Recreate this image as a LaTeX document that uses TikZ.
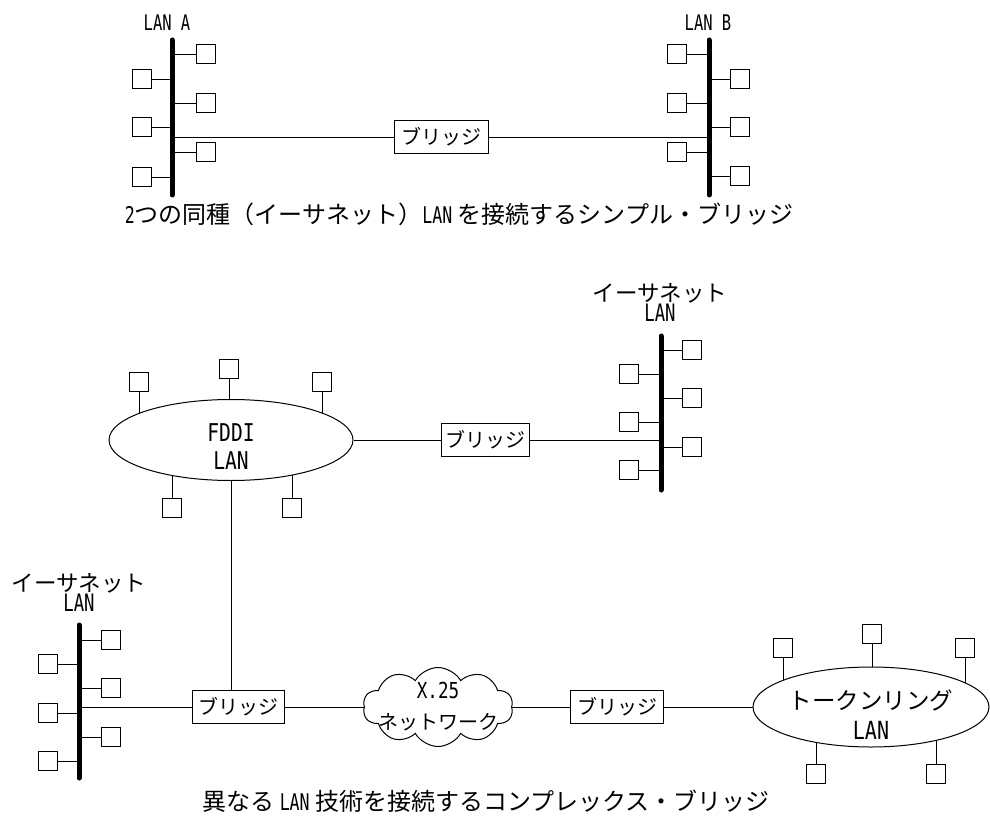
\documentclass[tikz,border=0pt]{standalone}
\usepackage{fontspec}
\setmainfont{Noto Sans CJK JP}
\newfontfamily\lt[FakeStretch=0.8]{DejaVu Sans Mono}
\newfontfamily\ltn[FakeStretch=0.72]{DejaVu Sans Mono}
\usetikzlibrary{shapes.geometric,shapes.symbols}
\pgfdeclarelayer{bg}\pgfsetlayers{bg,main}
\begin{document}
\begin{tikzpicture}[x=1pt,y=-1pt,
 dev/.style={draw,line width=1pt,minimum width=19pt,minimum height=19pt,inner sep=0pt},
 bus/.style={line width=5pt,line cap=round},
 wire/.style={line width=0.9pt},
 bridge/.style={draw,line width=1pt,minimum height=33pt,inner sep=0pt,fill=white,font=\fontsize{20}{24}\selectfont},
 lbl/.style={font=\fontsize{22.5}{20}\selectfont,align=center,inner sep=0pt},
 captxt/.style={font=\fontsize{24}{26}\selectfont,inner sep=0pt},
 lan/.style={draw,ellipse,fill=white,line width=1pt,inner sep=0pt,align=center},
 inlbl/.style={align=center,inner sep=0pt},
 lat/.style={font=\ltn\fontsize{21.5}{24}\selectfont,inner sep=0pt}
]
\useasboundingbox (0,0) rectangle (990,818);

% ---------- top: simple bridge ----------
\node[lat] (lanA) at (167,23) {LAN A};
\node[lat] (lanB) at (708,23) {LAN B};
\coordinate (aT) at (172,40); \coordinate (aB) at (172,195);
\coordinate (bT) at (709,40); \coordinate (bB) at (709,195);
\draw[bus] (aT) -- (aB);
\draw[bus] (bT) -- (bB);
\foreach \n/\y in {1/79,2/127,3/177}{
  \node[dev] (al\n) at (142,\y) {};
  \draw[wire] (al\n.east) -- (al\n.east -| aT);
}
\foreach \n/\y in {1/54,2/103,3/152}{
  \node[dev] (ar\n) at (206,\y) {};
  \draw[wire] (ar\n.west) -- (ar\n.west -| aT);
}
\foreach \n/\y in {1/54,2/103,3/152}{
  \node[dev] (bl\n) at (677,\y) {};
  \draw[wire] (bl\n.east) -- (bl\n.east -| bT);
}
\foreach \n/\y in {1/79,2/127,3/176}{
  \node[dev] (br\n) at (740,\y) {};
  \draw[wire] (br\n.west) -- (br\n.west -| bT);
}
\node[bridge,minimum width=94pt] (brT) at (441,137) {ブリッジ};
\draw[wire] (brT.west) -- (brT.west -| aT);
\draw[wire] (brT.east) -- (brT.east -| bT);
\node[captxt] (cap1) at (459,214) {{\ltn\fontsize{23}{26}\selectfont 2}つの同種（イーサネット）{\ltn\fontsize{23}{26}\selectfont LAN} を接続するシンプル・ブリッジ};

% ---------- bottom: complex bridge ----------
% FDDI ring
\node[lan,minimum width=244pt,minimum height=81pt,
  label={[inlbl,font=\lt\fontsize{24.5}{28}\selectfont,yshift=-7pt]center:FDDI\\LAN}] (fddi) at (231,440) {};
\foreach \n/\x/\y in {1/139/382,2/229/369,3/322/382}{
  \node[dev] (ft\n) at (\x,\y) {};
  \begin{pgfonlayer}{bg}\draw[wire] (ft\n.south) -- (ft\n.south |- fddi.center);\end{pgfonlayer}
}
\foreach \n/\x in {1/172,2/292}{
  \node[dev] (fb\n) at (\x,508) {};
  \begin{pgfonlayer}{bg}\draw[wire] (fb\n.north) -- (fb\n.north |- fddi.center);\end{pgfonlayer}
}

% top-right ethernet
\node[lbl] (e1lbl) at (660,302) {イーサネット\\{\ltn\fontsize{24}{20}\selectfont LAN}};
\coordinate (eT) at (661,336); \coordinate (eB) at (661,490);
\draw[bus] (eT) -- (eB);
\foreach \n/\y in {1/374,2/422,3/470}{
  \node[dev] (el\n) at (629,\y) {};
  \draw[wire] (el\n.east) -- (el\n.east -| eT);
}
\foreach \n/\y in {1/350,2/398,3/447}{
  \node[dev] (er\n) at (692,\y) {};
  \draw[wire] (er\n.west) -- (er\n.west -| eT);
}
\node[bridge,minimum width=88pt] (brM) at (485,440) {ブリッジ};
\draw[wire] (fddi.east) -- (brM.west);
\draw[wire] (brM.east) -- (brM.east -| eT);

% bottom-left ethernet
\node[lbl] (e2lbl) at (79,592) {イーサネット\\{\ltn\fontsize{24}{20}\selectfont LAN}};
\coordinate (lT) at (79,625); \coordinate (lB) at (79,778);
\draw[bus] (lT) -- (lB);
\foreach \n/\y in {1/640,2/688,3/737}{
  \node[dev] (lr\n) at (111,\y) {};
  \draw[wire] (lr\n.west) -- (lr\n.west -| lT);
}
\foreach \n/\y in {1/664,2/713,3/761}{
  \node[dev] (ll\n) at (48,\y) {};
  \draw[wire] (ll\n.east) -- (ll\n.east -| lT);
}
\node[bridge,minimum width=92pt] (brL) at (238,707) {ブリッジ};
\draw[wire] (brL.west) -- (brL.west -| lT);
\draw[wire] (fddi.south) -- (fddi.south |- brL.north);

% X.25 cloud
\node[draw,cloud,cloud puffs=10,cloud puff arc=120,cloud ignores aspect,line width=1pt,fill=white,
      minimum width=150pt,minimum height=79pt,inner sep=0pt,
      label={[inlbl,font=\fontsize{20}{31}\selectfont]center:{\lt\fontsize{22}{31}\selectfont X.25}\\ネットワーク}] (x25) at (438,707) {};
\node[bridge,minimum width=93pt] (br2) at (617,707) {ブリッジ};
\begin{pgfonlayer}{bg}
\draw[wire] (brL.east) -- (x25.center);
\draw[wire] (x25.center) -- (br2.west);
\end{pgfonlayer}

% token ring
\node[lan,minimum width=236pt,minimum height=80pt,
  label={[inlbl,font=\fontsize{23.5}{30}\selectfont,yshift=-8pt]center:トークンリング\\{\lt\fontsize{25}{30}\selectfont LAN}}] (tr) at (871,707) {};
\draw[wire] (br2.east) -- (tr.west);
\foreach \n/\x/\y in {1/783/648,2/872/634,3/965/648}{
  \node[dev] (tt\n) at (\x,\y) {};
  \begin{pgfonlayer}{bg}\draw[wire] (tt\n.south) -- (tt\n.south |- tr.center);\end{pgfonlayer}
}
\foreach \n/\x in {1/816,2/936}{
  \node[dev] (tb\n) at (\x,774) {};
  \begin{pgfonlayer}{bg}\draw[wire] (tb\n.north) -- (tb\n.north |- tr.center);\end{pgfonlayer}
}

\node[captxt] (cap2) at (486,801) {異なる {\ltn\fontsize{23}{26}\selectfont LAN} 技術を接続するコンプレックス・ブリッジ};
\end{tikzpicture}
\end{document}
